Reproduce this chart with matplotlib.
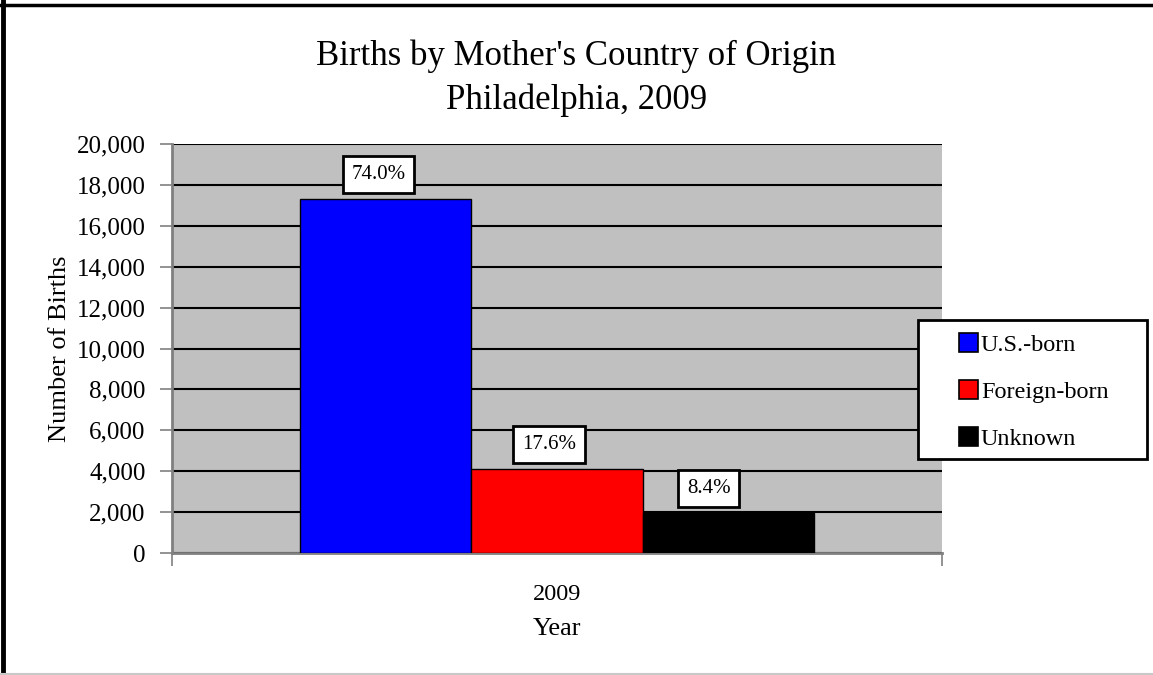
import matplotlib
matplotlib.use("Agg")
import matplotlib.pyplot as plt
from matplotlib.lines import Line2D
from matplotlib.patches import Rectangle
from matplotlib.ticker import FuncFormatter

plt.rcParams['font.family'] = ['Liberation Serif', 'DejaVu Serif']

years = ["2009"]
series = ["U.S.-born", "Foreign-born", "Unknown"]
values = [17330, 4120, 1970]
percents = ["74.0%", "17.6%", "8.4%"]
colors = ["#0000FF", "#FF0000", "#000000"]

W, H = 1153, 675
fig = plt.figure(figsize=(W / 100, H / 100), dpi=100)
ax = fig.add_axes([172 / W, 1 - 553 / H, (942 - 172) / W, (553 - 144) / H])
ax.set_facecolor("#C0C0C0")

bw = 0.2229
offsets = [-bw, 0, bw]
label_dx = [-7, -8, -20]
for i, (s, v, c, p) in enumerate(zip(series, values, colors, percents)):
    ax.bar(offsets[i], v, width=bw, color=c, edgecolor="black", linewidth=1.0,
           label=s, zorder=3)
    ax.annotate(p, xy=(offsets[i], v), xytext=(label_dx[i], 24), textcoords="offset pixels",
                ha="center", va="center", fontsize=15, zorder=5,
                bbox=dict(boxstyle="square,pad=0.42", fc="white", ec="black", lw=2))

ax.set_xlim(-0.5, 0.5)
ax.set_ylim(0, 20000)
ax.set_yticks(range(0, 20001, 2000))
ax.yaxis.set_major_formatter(FuncFormatter(lambda x, p: f"{int(x):,}"))
ax.set_xticks([0])
ax.set_xticklabels(years)
ax.set_xticks([-0.5, 0.5], minor=True)
ax.tick_params(axis='x', which='major', length=0, labelsize=17.5, pad=22)
ax.tick_params(axis='x', which='minor', length=9, color="#808080", width=1.2)
ax.tick_params(axis='y', length=9, color="#808080", width=1.2, labelsize=18, pad=10)
ax.yaxis.grid(True, color="black", linewidth=1.5, zorder=1)
ax.set_axisbelow(True)
for side in ["top", "right"]:
    ax.spines[side].set_visible(False)
for side in ["left", "bottom"]:
    ax.spines[side].set_color("#808080")
    ax.spines[side].set_linewidth(2)

ax.set_ylabel("Number of Births", fontsize=19, labelpad=4)
ax.set_xlabel("Year", fontsize=19, labelpad=10)

fig.text(0.5, 1 - 56 / H, "Births by Mother's Country of Origin", ha="center", va="center", fontsize=25)
fig.text(0.5, 1 - 100 / H, "Philadelphia, 2009", ha="center", va="center", fontsize=25)

# legend frame drawn manually to match the fixed box size
fig.add_artist(Rectangle((918 / W, 1 - 459 / H), (1147 - 918) / W, (459 - 320) / H,
                         transform=fig.transFigure, fc="white", ec="black", lw=2, zorder=4))
leg = fig.legend(loc="upper left", bbox_to_anchor=(959 / W, 1 - 333 / H), fontsize=17.5,
                 frameon=False, handlelength=0.8, handleheight=0.8, handletextpad=0.1,
                 labelspacing=1.0, borderpad=0, borderaxespad=0)
leg.set_zorder(5)
for h in leg.legend_handles:
    h.set_edgecolor("black")
    h.set_linewidth(1.2)

# figure border
fig.add_artist(Line2D([2.5 / W, 2.5 / W], [0, 1], color="black", lw=3.5, transform=fig.transFigure))
fig.add_artist(Line2D([0, 1], [1 - 5 / H, 1 - 5 / H], color="black", lw=2.5, transform=fig.transFigure))
fig.add_artist(Line2D([0, 1], [1.5 / H, 1.5 / H], color="#C8C8C8", lw=1.5, transform=fig.transFigure))

fig.savefig("out.png", dpi=100)
